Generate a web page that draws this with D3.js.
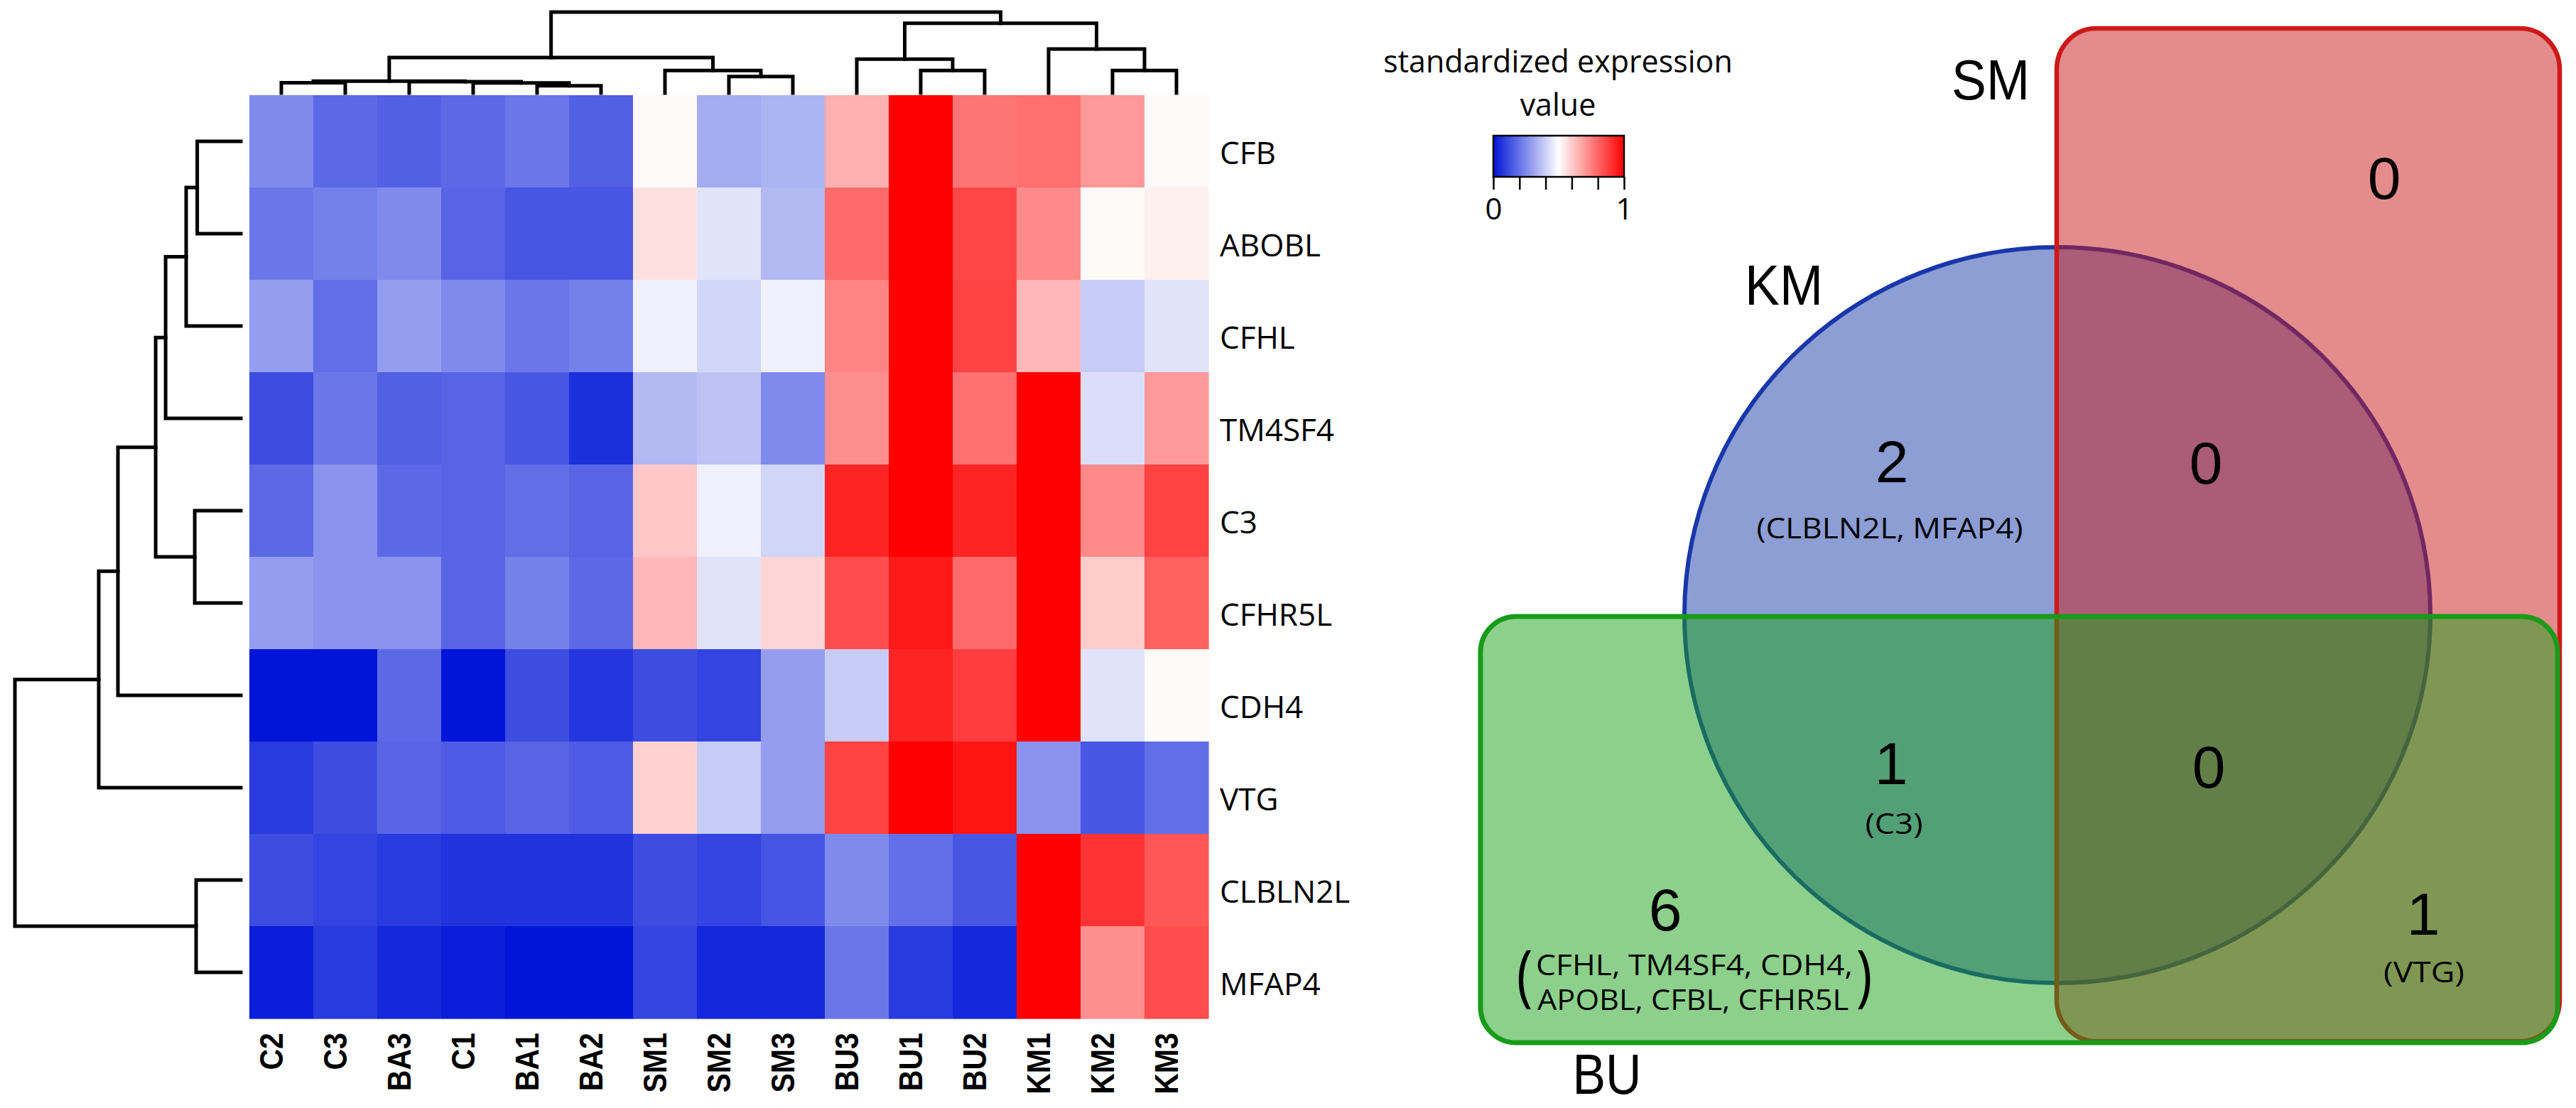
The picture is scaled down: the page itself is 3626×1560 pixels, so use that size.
<!DOCTYPE html>
<html><head><meta charset="utf-8">
<script src="https://cdn.jsdelivr.net/npm/d3@7"></script>
<style>html,body{margin:0;padding:0;background:#fff;} svg{display:block;}</style>
</head><body>
<svg id="chart" width="3626" height="1560"></svg>
<script>
// ---------------- DATA ----------------
const colLabels = ["C2","C3","BA3","C1","BA1","BA2","SM1","SM2","SM3","BU3","BU1","BU2","KM1","KM2","KM3"];
const rowLabels = ["CFB","ABOBL","CFHL","TM4SF4","C3","CFHR5L","CDH4","VTG","CLBLN2L","MFAP4"];
const values = [
  [0.25,0.18,0.16,0.18,0.21,0.16,0.51,0.32,0.34,0.655,1.0,0.77,0.78,0.70,0.51],
  [0.21,0.23,0.25,0.17,0.14,0.14,0.56,0.44,0.35,0.79,1.0,0.86,0.73,0.51,0.53],
  [0.29,0.19,0.29,0.25,0.21,0.23,0.47,0.41,0.47,0.74,1.0,0.87,0.64,0.39,0.44],
  [0.12,0.21,0.16,0.17,0.14,0.055,0.35,0.37,0.25,0.72,1.0,0.78,1.0,0.43,0.70],
  [0.18,0.27,0.18,0.17,0.19,0.17,0.61,0.47,0.41,0.93,1.0,0.93,1.0,0.73,0.87],
  [0.29,0.27,0.27,0.17,0.23,0.18,0.64,0.44,0.58,0.85,0.95,0.79,1.0,0.60,0.81],
  [0.0,0.0,0.18,0.0,0.12,0.07,0.12,0.10,0.29,0.39,0.93,0.88,1.0,0.44,0.51],
  [0.08,0.12,0.17,0.15,0.17,0.15,0.59,0.39,0.29,0.87,1.0,0.96,0.27,0.14,0.19],
  [0.12,0.10,0.08,0.065,0.065,0.065,0.12,0.10,0.135,0.25,0.19,0.14,1.0,0.90,0.83],
  [0.02,0.08,0.04,0.02,0.0,0.0,0.10,0.04,0.04,0.21,0.08,0.04,1.0,0.72,0.85]
];
// hclust-style merges: negative = leaf (1-based), positive = earlier merge (1-based), then height
const colMerges = [
  [-5,-6,0.09],[-4,1,0.125],[-1,-2,0.127],[-3,2,0.14],[3,4,0.146],
  [-8,-9,0.204],[-7,6,0.278],[5,7,0.439],
  [-11,-12,0.278],[-10,9,0.418],[-14,-15,0.278],[-13,11,0.544],
  [10,12,0.862],[8,13,1.0]
];
const rowMerges = [
  [-1,-2,0.193],[-3,1,0.242],[-4,2,0.333],[-5,-6,0.204],[3,4,0.377],
  [-7,5,0.544],[-8,6,0.629],[-9,-10,0.198],[7,8,1.0]
];
const legendTitle = ["standardized expression","value"];
const legendTicks = [0,0.2,0.4,0.6,0.8,1];
const legendTickLabels = ["0","","","","","1"];
const setNames = ["SM","KM","BU"];
const regionKeys = ["SM","KM","KM&SM","KM&BU","KM&SM&BU","BU","SM&BU"];
const regionCounts = [0,2,0,1,0,6,1];
const regionGenes = [[],["(CLBLN2L, MFAP4)"],[],["(C3)"],[],["CFHL, TM4SF4, CDH4,","APOBL, CFBL, CFHR5L"],["(VTG)"]];

// ---------------- LAYOUT ----------------
const svg = d3.select("#chart");
svg.append("rect").attr("width",3626).attr("height",1560).attr("fill","#fff");

const x = d3.scaleBand().domain(colLabels).range([351,1701]);
const y = d3.scaleBand().domain(rowLabels).range([134,1434]);
const color = d3.scaleLinear().domain([0,0.5,1]).range(["rgb(0,21,216)","#ffffff","#ff0000"]);

// cells
const cells = [];
values.forEach((row,i)=>row.forEach((v,j)=>cells.push({r:rowLabels[i],c:colLabels[j],v})));
svg.append("g").selectAll("rect").data(cells).join("rect")
  .attr("x",d=>x(d.c)).attr("y",d=>y(d.r))
  .attr("width",x.bandwidth()+0.6).attr("height",y.bandwidth()+0.6)
  .attr("fill",d=>color(d.v));

// row labels
svg.append("g").selectAll("text").data(rowLabels).join("text")
  .attr("x",1717).attr("y",d=>y(d)+y.bandwidth()/2+32)
  .attr("font-family","'Open Sans', 'Noto Sans', sans-serif").attr("font-size",44)
  .attr("fill","#000").text(d=>d);

// column labels
svg.append("g").selectAll("text").data(colLabels).join("text")
  .attr("transform",d=>`translate(${x(d)+x.bandwidth()/2+2},1454) rotate(-90) scale(0.875,1)`)
  .attr("text-anchor","end")
  .attr("font-family","'Liberation Sans', Arial, sans-serif").attr("font-weight","bold").attr("font-size",47)
  .attr("fill","#000").text(d=>d);

// dendrograms
function drawDendro(merges, leafPos, hScale, vertical){
  const pos = [], hgt = [];
  const g = svg.append("g").attr("fill","none").attr("stroke","#000").attr("stroke-width",5).attr("stroke-linecap","square");
  const get = k => k<0 ? [leafPos(-k-1), 0] : [pos[k-1], hgt[k-1]];
  merges.forEach((m,i)=>{
    const a = get(m[0]), b = get(m[1]), h = m[2];
    const H = hScale(h);
    let d;
    if (vertical) d = `M${a[0]},${hScale(a[1])}V${H}H${b[0]}V${hScale(b[1])}`;
    else d = `M${hScale(a[1])},${a[0]}H${H}V${b[0]}H${hScale(b[1])}`;
    g.append("path").attr("d",d);
    pos[i] = (a[0]+b[0])/2; hgt[i] = h;
  });
}
drawDendro(colMerges, i=>x(colLabels[i])+x.bandwidth()/2, d3.scaleLinear().domain([0,1]).range([131,17]), true);
drawDendro(rowMerges, i=>y(rowLabels[i])+y.bandwidth()/2, d3.scaleLinear().domain([0,1]).range([339,21]), false);

// legend
const defs = svg.append("defs");
const grad = defs.append("linearGradient").attr("id","lg").attr("x1","0%").attr("x2","100%");
d3.range(0,1.0001,0.1).forEach(t=>grad.append("stop").attr("offset",(t*100)+"%").attr("stop-color",color(t)));
const lg = svg.append("g");
lg.selectAll("text.title").data(legendTitle).join("text").attr("class","title")
  .attr("x",2193).attr("y",(d,i)=>102+i*61).attr("text-anchor","middle")
  .attr("font-family","'Open Sans', 'Noto Sans', sans-serif").attr("font-size",43).attr("fill","#000").text(d=>d);
const lx = d3.scaleLinear().domain([0,1]).range([2102,2286]);
lg.append("rect").attr("x",lx(0)).attr("y",191).attr("width",lx(1)-lx(0)).attr("height",58)
  .attr("fill","url(#lg)").attr("stroke","#000").attr("stroke-width",2.5);
const ax = lg.append("g").attr("transform","translate(0,249)")
  .call(d3.axisBottom(lx).tickValues(legendTicks).tickSize(18).tickPadding(12).tickFormat((d,i)=>legendTickLabels[i]));
ax.select(".domain").remove();
ax.selectAll("line").attr("stroke","#000").attr("stroke-width",2.5);
ax.selectAll("text").attr("font-family","'Open Sans', 'Noto Sans', sans-serif").attr("font-size",42).attr("fill","#000");

// ---------------- VENN ----------------
const V = svg.append("g");
V.append("ellipse").attr("cx",2896).attr("cy",866).attr("rx",525).attr("ry",518)
  .attr("fill","rgb(25,61,169)").attr("fill-opacity",0.5).attr("stroke","rgb(25,55,170)").attr("stroke-width",6);
V.append("rect").attr("x",2895).attr("y",40).attr("width",708).attr("height",1426).attr("rx",55).attr("ry",58)
  .attr("fill","rgb(201,25,25)").attr("fill-opacity",0.5).attr("stroke","rgb(205,25,25)").attr("stroke-width",6.5);
V.append("rect").attr("x",2084).attr("y",868).attr("width",1516).attr("height",600).attr("rx",50)
  .attr("fill","rgb(25,161,25)").attr("fill-opacity",0.5).attr("stroke","rgb(25,155,25)").attr("stroke-width",7);

// set labels
const setPos = {SM:[2802,140,110], KM:[2511,429,110], BU:[2262,1540,97]};
V.selectAll("text.set").data(setNames).join("text").attr("class","set")
  .attr("x",d=>setPos[d][0]-setPos[d][2]/2).attr("y",d=>setPos[d][1])
  .attr("textLength",d=>setPos[d][2]).attr("lengthAdjust","spacingAndGlyphs")
  .attr("font-family","'Liberation Sans', Arial, sans-serif").attr("font-size",80).attr("fill","#000").text(d=>d);

// counts
const countPos = {"SM":[3356,280],"KM":[2663,679],"KM&SM":[3105,681],"KM&BU":[2662,1104],"KM&SM&BU":[3109,1109],"BU":[2344,1310],"SM&BU":[3411,1316]};
V.selectAll("text.count").data(regionKeys).join("text").attr("class","count")
  .attr("x",d=>countPos[d][0]).attr("y",d=>countPos[d][1]).attr("text-anchor","middle")
  .attr("font-family","'Liberation Sans', Arial, sans-serif").attr("font-size",84).attr("fill","#000")
  .text((d,i)=>regionCounts[i]);

// gene lists  [centerX, baseline, width]
const genePos = {"KM":[2660,758,375],"KM&BU":[2666,1174,81],"BU":[2385,1373,446],"SM&BU":[3412,1383,114]};
regionKeys.forEach((k,i)=>{
  const lines = regionGenes[i];
  if (!lines.length) return;
  const p = genePos[k];
  lines.forEach((t,j)=>{
    V.append("text").attr("x",p[0]-p[2]/2 + (j? 2:0)).attr("y",p[1]+j*49)
      .attr("textLength",j? p[2]-8 : p[2]).attr("lengthAdjust","spacingAndGlyphs")
      .attr("font-family","'Open Sans', 'Noto Sans', sans-serif").attr("font-size",41).attr("fill","#000").text(t);
  });
  if (lines.length>1){
    [["(",2146],[")",2624]].forEach(b=>{
      V.append("text").attr("x",b[1]).attr("y",1406).attr("text-anchor","middle")
        .attr("transform",`translate(${b[1]},0) scale(0.8,1) translate(${-b[1]},0)`)
        .attr("font-family","'Open Sans', 'Noto Sans', sans-serif").attr("font-size",96).attr("fill","#000").text(b[0]);
    });
  }
});
</script>
</body></html>
